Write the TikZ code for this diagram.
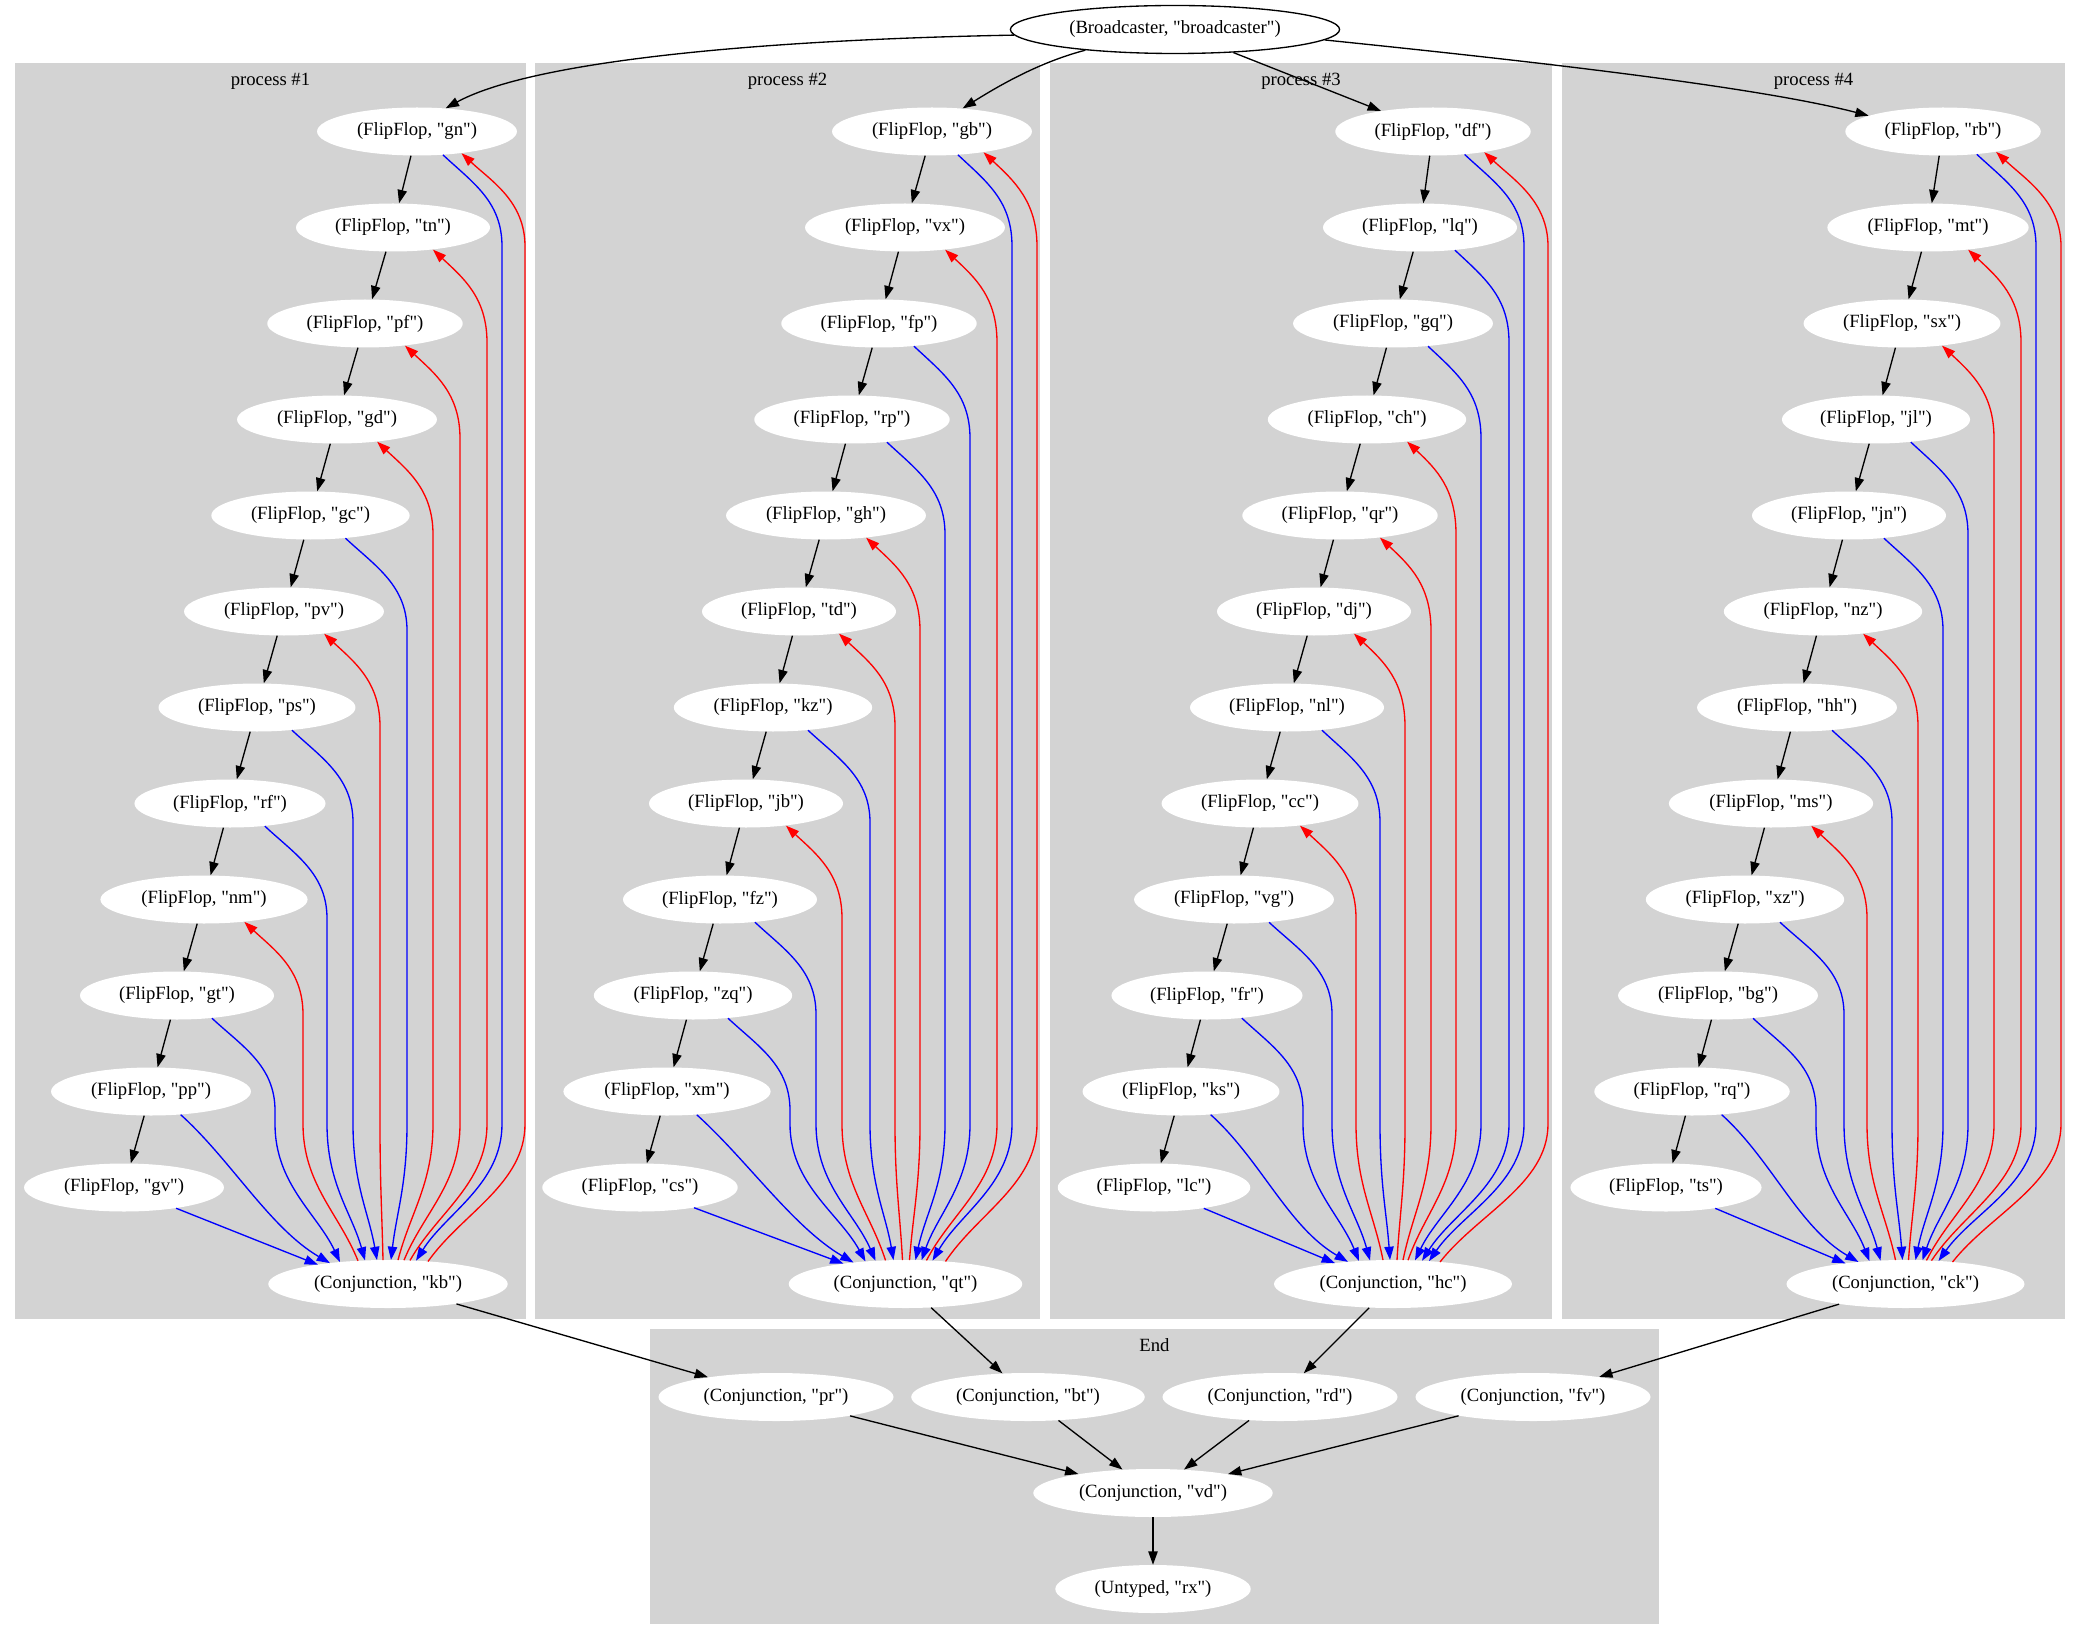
\documentclass[tikz,border=0pt]{standalone}
\usepackage{fontspec}
\setmainfont{Liberation Serif}[Ligatures=TeXOff]
\usetikzlibrary{shapes.geometric,arrows.meta,calc}
\definecolor{clustergray}{HTML}{D3D3D3}
\begin{document}
\begin{tikzpicture}[x=0.75pt,y=0.75pt,font=\fontsize{14}{17}\selectfont,
  >={Triangle[length=10pt,width=7pt]},
  ffnode/.style={ellipse,fill=white,inner xsep=8pt,inner ysep=0pt,minimum height=36pt},
  bcnode/.style={ffnode,draw=black,line width=1pt,fill=none},
  chain/.style={->,line width=1pt},
  bluelink/.style={->,blue,line width=1pt},
  redlink/.style={->,red,line width=1pt}]
\useasboundingbox (0,0) rectangle (2080,-1640);
% clusters
\fill[clustergray] (15,-63) rectangle (526,-1319);
\fill[clustergray] (535,-63) rectangle (1040,-1319);
\fill[clustergray] (1050,-63) rectangle (1552,-1319);
\fill[clustergray] (1562,-63) rectangle (2065,-1319);
\fill[clustergray] (650,-1329) rectangle (1659,-1624);
\node (p1) at (270.5,-81) {process \#1};
\node (p2) at (787.5,-81) {process \#2};
\node (p3) at (1301,-81) {process \#3};
\node (p4) at (1813.5,-81) {process \#4};
\node (endlbl) at (1154.5,-1345) {End};
% broadcaster
\node[bcnode] (bc) at (1175,-29.5) {(Broadcaster, "broadcaster")};
% flip-flop chains
\foreach \n/\x [count=\i from 0, remember=\n as \p (initially gn)] in {gn/417,tn/393,pf/365,gd/337,gc/310.5,pv/284,ps/257,rf/230,nm/204,gt/177,pp/151,gv/124} {
  \node[ffnode] (\n) at (\x,{-131.5-96*\i}) {(FlipFlop, "\n")};
  \ifnum\i>0 \draw[chain] (\p) -- (\n); \fi
}
\foreach \n/\x [count=\i from 0, remember=\n as \p (initially gb)] in {gb/932,vx/905,fp/879,rp/852,gh/826,td/799,kz/773,jb/746,fz/720,zq/693,xm/667,cs/640} {
  \node[ffnode] (\n) at (\x,{-131.5-96*\i}) {(FlipFlop, "\n")};
  \ifnum\i>0 \draw[chain] (\p) -- (\n); \fi
}
\foreach \n/\x [count=\i from 0, remember=\n as \p (initially df)] in {df/1433,lq/1420,gq/1393,ch/1367,qr/1340,dj/1314,nl/1287,cc/1260,vg/1234,fr/1207,ks/1181,lc/1154} {
  \node[ffnode] (\n) at (\x,{-131.5-96*\i}) {(FlipFlop, "\n")};
  \ifnum\i>0 \draw[chain] (\p) -- (\n); \fi
}
\foreach \n/\x [count=\i from 0, remember=\n as \p (initially rb)] in {rb/1943,mt/1928,sx/1902,jl/1876,jn/1849,nz/1823,hh/1797,ms/1771,xz/1745,bg/1718,rq/1692,ts/1666} {
  \node[ffnode] (\n) at (\x,{-131.5-96*\i}) {(FlipFlop, "\n")};
  \ifnum\i>0 \draw[chain] (\p) -- (\n); \fi
}
% conjunctions
\node[ffnode] (kb) at (388,-1284) {(Conjunction, "kb")};
\node[ffnode] (qt) at (905.5,-1284) {(Conjunction, "qt")};
\node[ffnode] (hc) at (1393,-1284) {(Conjunction, "hc")};
\node[ffnode] (ck) at (1905.5,-1284) {(Conjunction, "ck")};
\node[ffnode] (pr) at (776,-1397) {(Conjunction, "pr")};
\node[ffnode] (bt) at (1028,-1397) {(Conjunction, "bt")};
\node[ffnode] (rd) at (1280,-1397) {(Conjunction, "rd")};
\node[ffnode] (fv) at (1533,-1397) {(Conjunction, "fv")};
\node[ffnode] (vd) at (1153,-1493) {(Conjunction, "vd")};
\node[ffnode] (rx) at (1153,-1589) {(Untyped, "rx")};
% broadcaster edges
\draw[chain] (bc.182) .. controls (750,-40) and (530,-62) .. (gn.39);
\draw[chain] (bc.193) .. controls (1040,-62) and (1000,-85) .. (gb.37);
\draw[chain] (bc) -- (df);
\draw[chain] (bc.-4) .. controls (1500,-58) and (1750,-85) .. (rb.168);
% blue links, flip-flop to conjunction
\foreach \f/\c/\a/\l/\d in {gn/kb/-42/502/28,gc/kb/-33/407/3,ps/kb/-33/353/-11,rf/kb/-33/327/-23,gt/kb/-33/275/-48,
    gb/qt/-42/1012/27,fp/qt/-33/970/16,rp/qt/-33/945/10,kz/qt/-33/870/-12,fz/qt/-33/816/-30,zq/qt/-33/790/-40,
    df/hc/-36/1524/36,lq/hc/-33/1509/29,gq/hc/-33/1481/22,nl/hc/-33/1380/-3,vg/hc/-33/1332/-23,fr/hc/-33/1303/-34,
    rb/ck/-34/2036/33,jl/ck/-33/1968/17,jn/ck/-33/1943/10,hh/ck/-33/1892/-3,xz/ck/-33/1844/-25,bg/ck/-33/1816/-36} {
  \pgfmathsetmacro\h{24*sqrt(1-(\d/117)^2)}
  \coordinate (lx) at (\l,0);
  \path (\f.center) ++(0,-115) coordinate (lt)
        (\c.center) ++(0,160) coordinate (lb)
        (\c.center) ++(\d,\h) coordinate (en);
  \draw[bluelink] (\f.\a) .. controls ($(\f.\a)+(30,-28)$) and ($(lt -| lx)+(0,45)$) .. (lt -| lx)
    -- (lb -| lx) .. controls ($(lb -| lx)+(0,-60)$) and ($(en)!0.35!(lb -| lx)$) .. (en);
}
% red links, conjunction back to flip-flop
\foreach \f/\c/\a/\l/\d in {gn/kb/-26/525/40,tn/kb/-29/487/22,pf/kb/-29/460/16,gd/kb/-29/433/10,pv/kb/-29/380/-5,nm/kb/-29/303/-30,
    gb/qt/-22/1037/40,vx/qt/-29/997/21,gh/qt/-29/920/4,td/qt/-29/895/-3,jb/qt/-29/842/-20,
    df/hc/-22/1548/47,ch/hc/-29/1456/15,qr/hc/-29/1431/10,dj/hc/-29/1405/4,cc/hc/-29/1356/-10,
    rb/ck/-21/2061/47,mt/ck/-29/2021/26,sx/ck/-29/1994/21,nz/ck/-29/1918/3,ms/ck/-29/1867/-10} {
  \pgfmathsetmacro\h{24*sqrt(1-(\d/117)^2)}
  \coordinate (lx) at (\l,0);
  \path (\f.center) ++(0,-115) coordinate (lt)
        (\c.center) ++(0,160) coordinate (lb)
        (\c.center) ++(\d,\h) coordinate (en);
  \draw[redlink] (en) .. controls ($(en)!0.35!(lb -| lx)$) and ($(lb -| lx)+(0,-60)$) .. (lb -| lx)
    -- (lt -| lx) .. controls ($(lt -| lx)+(0,45)$) and ($(\f.\a)+(30,-28)$) .. (\f.\a);
}
% last two flip-flops of each chain
\foreach \f/\c/\d in {pp/kb/-58,xm/qt/-52,ks/hc/-45,rq/ck/-47} {
  \pgfmathsetmacro\h{24*sqrt(1-(\d/117)^2)}
  \path (\c.center) ++(\d,\h) coordinate (en);
  \draw[bluelink] (\f.-38) .. controls ($(\f.-38)+(50,-45)$) and ($(en)+(-60,35)$) .. (en);
}
\foreach \f/\c/\d in {gv/kb/-70,cs/qt/-62,lc/hc/-58,ts/ck/-60} {
  \pgfmathsetmacro\h{24*sqrt(1-(\d/117)^2)}
  \path (\c.center) ++(\d,\h) coordinate (en);
  \draw[bluelink] (\f) -- (en);
}
% end cluster
\draw[chain] (kb) -- (pr);
\draw[chain] (qt) -- (bt);
\draw[chain] (hc) -- (rd);
\draw[chain] (ck) -- (fv);
\foreach \n in {pr,bt,rd,fv} {\draw[chain] (\n) -- (vd);}
\draw[chain] (vd) -- (rx);
\end{tikzpicture}
\end{document}
